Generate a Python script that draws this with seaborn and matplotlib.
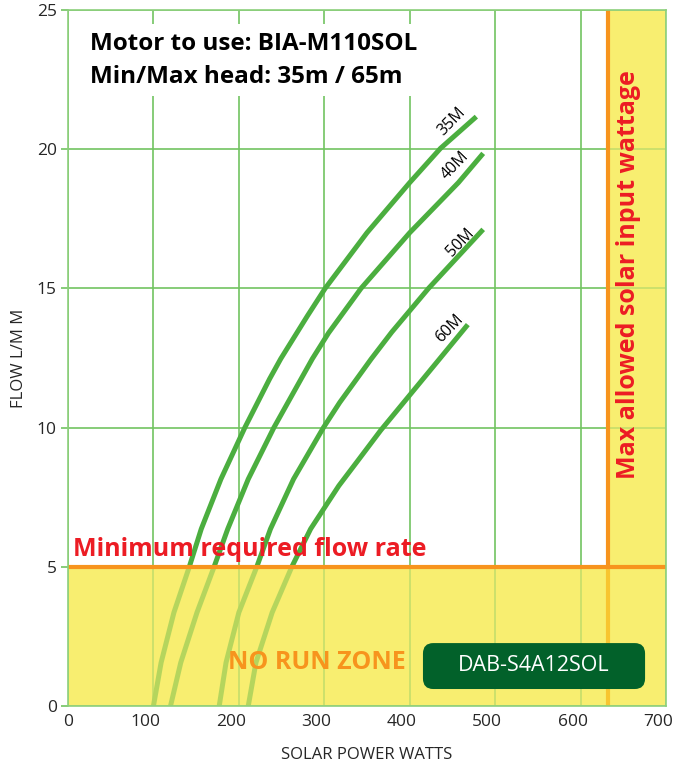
import numpy as np
import pandas as pd
import matplotlib.pyplot as plt
import matplotlib.transforms as mtransforms
import seaborn as sns
from matplotlib.patches import FancyBboxPatch, Polygon

# %% data
heads = ["35M", "40M", "50M", "60M"]
watts_35 = [100, 109, 124, 142, 156, 179, 207, 236, 249, 280, 301, 350, 400, 436, 478]
flow_35 = [0, 1.56, 3.36, 5, 6.36, 8.15, 10, 11.75, 12.47, 14, 15, 17, 18.8, 20.03, 21.17]
watts_40 = [120, 132, 151, 171, 187, 211, 241, 286, 305, 343, 400, 457, 486]
flow_40 = [0, 1.56, 3.36, 5, 6.36, 8.15, 10, 12.47, 13.4, 15, 17, 18.8, 19.85]
watts_50 = [177, 185, 200, 221, 237, 264, 299, 318, 355, 379, 422, 486]
flow_50 = [0, 1.56, 3.36, 5, 6.36, 8.15, 10, 10.9, 12.47, 13.43, 15, 17.12]
watts_60 = [211, 220, 239, 262, 284, 317, 338, 366, 435, 468]
flow_60 = [0, 1.56, 3.36, 5, 6.36, 7.91, 8.76, 9.9, 12.47, 13.7]

min_flow = 5
max_watts = 632
x_ticks = [0, 100, 200, 300, 400, 500, 600, 700]
y_ticks = [0, 5, 10, 15, 20, 25]

curves = pd.concat([
    pd.DataFrame({"head": h, "watts": w, "flow": f})
    for h, w, f in zip(heads, [watts_35, watts_40, watts_50, watts_60],
                       [flow_35, flow_40, flow_50, flow_60])
], ignore_index=True)

# %% colours
green = "#4bae3f"
grid_green = "#72c461"
yellow = "#f8ee70"
orange = "#f7941d"
red = "#ec1c24"
dark_green = "#02612a"

sns.set_style("white")
plt.rcParams["font.family"] = ["Open Sans", "DejaVu Sans"]

fig = plt.figure(figsize=(6.78, 7.67), dpi=100)
ax = fig.add_axes([68 / 678, 61 / 767, 598 / 678, 696 / 767])

# no-run zone (solid, under the grid)
zone = [(0, 0), (700, 0), (700, 25), (max_watts, 25), (max_watts, min_flow), (0, min_flow)]
ax.add_patch(Polygon(zone, closed=True, facecolor=yellow, edgecolor="none", zorder=0))

# curves
for h in heads:
    sub = curves[curves["head"] == h]
    sns.lineplot(data=sub, x="watts", y="flow", ax=ax, color=green, lw=3.6,
                 sort=False, estimator=None, zorder=2, legend=False,
                 solid_joinstyle="round", solid_capstyle="butt")

# translucent layer so curves and grid fade inside the zone
ax.add_patch(Polygon(zone, closed=True, facecolor=yellow, edgecolor="none",
                     alpha=0.62, zorder=3))

# limit lines
ax.plot([max_watts, max_watts], [min_flow, 25], color=orange, lw=3, zorder=4,
        solid_capstyle="butt")
ax.plot([max_watts, max_watts], [0, min_flow], color="#f8c530", lw=3, zorder=4,
        solid_capstyle="butt")
ax.axhline(min_flow, color=orange, lw=3, zorder=5)

# curve labels
label_pos = {"35M": (449, 21.0), "40M": (453, 19.4), "50M": (459, 16.65), "60M": (447, 13.55)}
for h in heads:
    lx, ly = label_pos[h]
    ax.text(lx, ly, h, rotation=46, ha="center", va="center", fontsize=11.5,
            color="black", zorder=6)

# annotations
ax.text(26, 23.2, "Motor to use: BIA-M110SOL\nMin/Max head: 35m / 65m",
        fontsize=17.5, fontweight="bold", color="black", va="center", ha="left",
        linespacing=1.5, zorder=6,
        bbox=dict(boxstyle="square,pad=0.3", facecolor="white", edgecolor="none"))
ax.text(6, 5.62, "Minimum required flow rate", fontsize=18, fontweight="bold",
        color=red, ha="left", va="center", zorder=6)
ax.text(656, 15.5, "Max allowed solar input wattage", fontsize=18, fontweight="bold",
        color=red, rotation=90, ha="center", va="center", zorder=6)
ax.text(291, 1.58, "NO RUN ZONE", fontsize=18, fontweight="bold",
        color=orange, ha="center", va="center", zorder=6)

ax.add_patch(FancyBboxPatch((415.5, 0.61), 260, 1.65,
                            boxstyle="round,pad=0,rounding_size=12",
                            mutation_aspect=1 / 32,
                            facecolor=dark_green, edgecolor="none", zorder=6))
ax.text(545, 1.44, "DAB-S4A12SOL", fontsize=15.5, color="white",
        ha="center", va="center", zorder=7)

# axes styling
ax.set_xlim(0, 700)
ax.set_ylim(0, 25)
ax.set_xticks(x_ticks)
ax.set_yticks(y_ticks)
ax.grid(True, color=grid_green, lw=1.2)
ax.set_axisbelow(True)
ax.tick_params(axis="x", length=0, labelsize=12.5, pad=6)
ax.tick_params(axis="y", length=5, color=grid_green, width=1.2, labelsize=12.5, pad=3, left=True)
# x labels sit a little left of their grid lines in the original
shift = mtransforms.ScaledTranslation(-8 / 100, 0, fig.dpi_scale_trans)
for lab in ax.get_xticklabels()[1:]:
    lab.set_transform(lab.get_transform() + shift)
for s in ax.spines.values():
    s.set_color("#8ccf7c")
    s.set_linewidth(1.2)
    s.set_zorder(8)

ax.set_xlabel("SOLAR POWER WATTS", fontsize=12, labelpad=12)
ax.set_ylabel("FLOW L/M M", fontsize=12, labelpad=7)

plt.savefig("out.png", dpi=100)
